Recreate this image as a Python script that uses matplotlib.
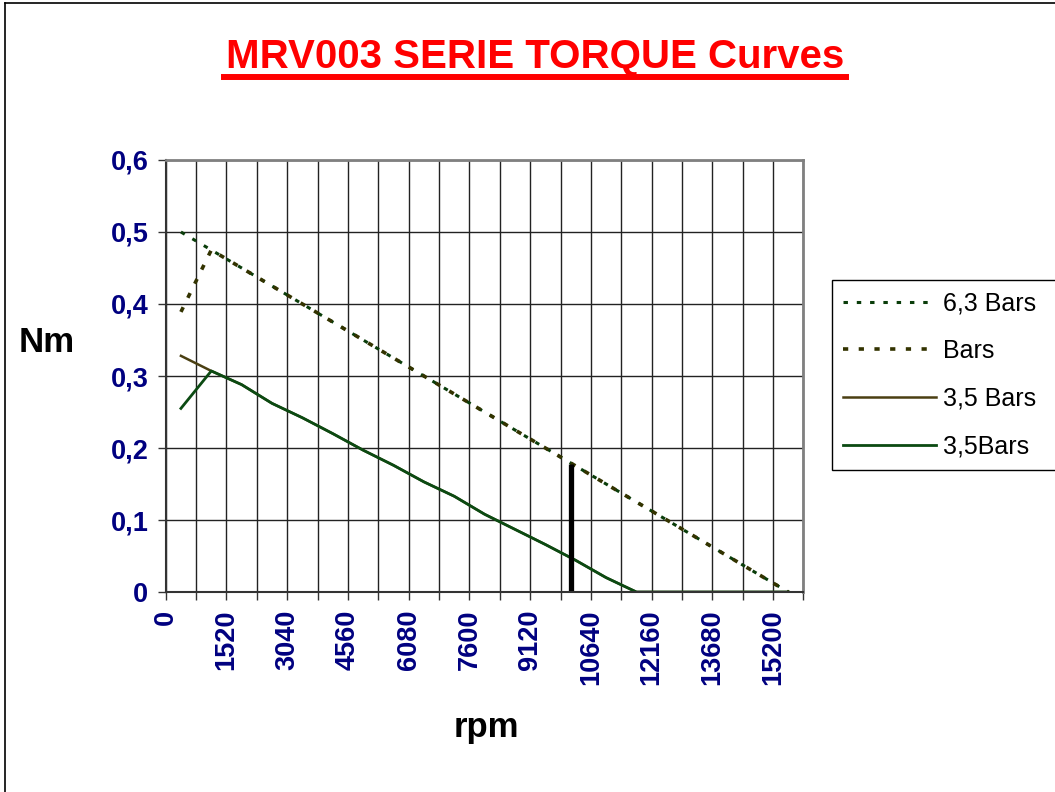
import matplotlib
matplotlib.use("Agg")
import matplotlib.pyplot as plt
from matplotlib.lines import Line2D

plt.rcParams['font.family'] = ['Liberation Sans', 'DejaVu Sans']

# data
rpm = [380, 1140, 1900, 2660, 3420, 4180, 4940, 5700, 6460, 7220, 7980,
       8740, 9500, 10260, 11020, 11780, 12540, 13300, 14060, 14820, 15580]
torque_63 = [0.500, 0.475, 0.450, 0.425, 0.400, 0.375, 0.350, 0.325, 0.300, 0.275, 0.250,
             0.225, 0.200, 0.175, 0.150, 0.125, 0.100, 0.075, 0.050, 0.025, 0.000]
torque_bars = [0.389, 0.475, 0.450, 0.425, 0.400, 0.375, 0.350, 0.325, 0.300, 0.275, 0.250,
               0.225, 0.200, 0.175, 0.150, 0.125, 0.100, 0.075, 0.050, 0.025, 0.000]
torque_35a = [0.328, 0.307, 0.288, 0.262, 0.242, 0.220, 0.197, 0.176, 0.153, 0.133, 0.108,
              0.087, 0.066, 0.044, 0.020, 0.000, 0.000, 0.000, 0.000, 0.000, 0.000]
torque_35b = [0.255, 0.307, 0.288, 0.262, 0.242, 0.220, 0.197, 0.176, 0.153, 0.133, 0.108,
              0.087, 0.066, 0.044, 0.020, 0.000, 0.000, 0.000, 0.000, 0.000, 0.000]
marker_rpm = 10140
marker_torque = 0.178

x_ticks = [i * 760 for i in range(22)]
x_labels = [str(t) if i % 2 == 0 and i < 21 else '' for i, t in enumerate(x_ticks)]
y_ticks = [0, 0.1, 0.2, 0.3, 0.4, 0.5, 0.6]
y_labels = ['0', '0,1', '0,2', '0,3', '0,4', '0,5', '0,6']

navy = '#000080'

fig = plt.figure(figsize=(10.55, 7.92), dpi=100)
ax = fig.add_axes([0.1571, 0.2525, 0.6045, 0.5455])

dots = (1.45, 2.9)
ax.plot(rpm, torque_63, color='#0a3d0a', lw=2.2, dashes=dots, label='6,3 Bars')
ax.plot(rpm, torque_bars, color='#333300', lw=2.6, dashes=dots, label='Bars')
ax.plot(rpm, torque_35a, color='#4a3f12', lw=1.8, label='3,5 Bars')
ax.plot(rpm, torque_35b, color='#0b4a12', lw=2.0, label='3,5Bars')
ax.vlines(marker_rpm, 0, marker_torque, color='black', lw=3.8)

ax.set_xlim(0, 15960)
ax.set_ylim(0, 0.6)
ax.set_xticks(x_ticks)
ax.set_xticklabels(x_labels, rotation=90)
ax.set_yticks(y_ticks)
ax.set_yticklabels(y_labels)
ax.tick_params(axis='both', direction='out', length=5.5, width=1, color='#333333',
               labelsize=19.5, labelcolor=navy)
ax.tick_params(axis='x', pad=7)
ax.tick_params(axis='y', pad=7)
for lab in ax.get_xticklabels() + ax.get_yticklabels():
    lab.set_fontweight('bold')

ax.grid(True, color='#222222', lw=1.0)
ax.set_axisbelow(True)
for side in ['top', 'right']:
    ax.spines[side].set_color('#808080')
    ax.spines[side].set_linewidth(2)
for side in ['left', 'bottom']:
    ax.spines[side].set_color('#333333')
    ax.spines[side].set_linewidth(1.5)

fig.text(47 / 1055, 1 - 342 / 792, 'Nm', fontsize=25, fontweight='bold',
         ha='center', va='center')
fig.text(486 / 1055, 1 - 728 / 792, 'rpm', fontsize=25, fontweight='bold',
         ha='center', va='center')

title = fig.text(535 / 1055, 1 - 68 / 792, 'MRV003 SERIE TORQUE Curves', fontsize=29,
                 fontweight='bold', color='red', ha='center', va='baseline')

leg = ax.legend(loc='upper left', bbox_to_anchor=(832 / 1055, 1 - 473 / 792, 300 / 1055, 193 / 792),
                bbox_transform=fig.transFigure, mode='expand', fontsize=18, frameon=True,
                fancybox=False, edgecolor='black', framealpha=1, handlelength=3.7,
                handletextpad=0.3, labelspacing=0.95, borderpad=0.45, borderaxespad=0)
leg.get_frame().set_linewidth(1.0)

# underline under the title
fig.canvas.draw()
bb = title.get_window_extent().transformed(fig.transFigure.inverted())
fig.add_artist(Line2D([bb.x0 - 0.002, bb.x1 + 0.002], [1 - 77 / 792, 1 - 77 / 792],
                      color='red', lw=4.3, transform=fig.transFigure))

# outer border (left and top)
fig.add_artist(Line2D([5 / 1055, 5 / 1055], [0, 1 - 3 / 792], color='black', lw=1.2,
                      transform=fig.transFigure))
fig.add_artist(Line2D([5 / 1055, 1], [1 - 3 / 792, 1 - 3 / 792], color='black', lw=1.2,
                      transform=fig.transFigure))

fig.savefig('out.png', dpi=100)
